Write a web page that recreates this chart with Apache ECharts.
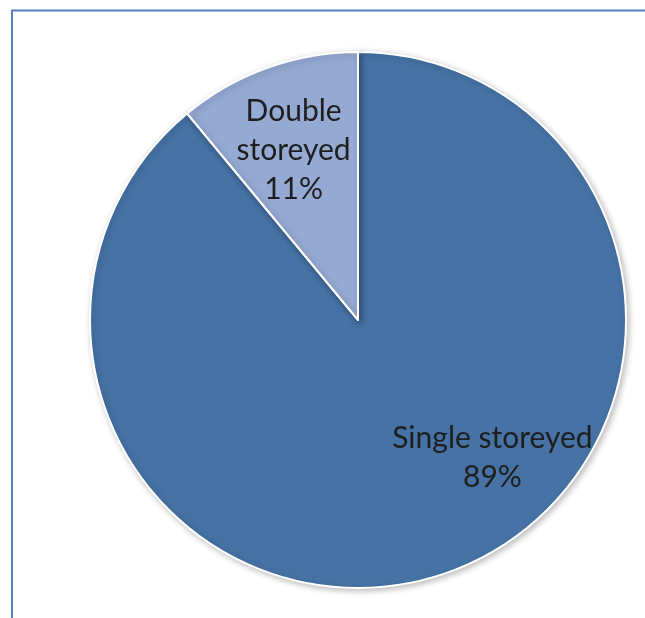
<!DOCTYPE html>
<html>
<head>
<meta charset="utf-8">
<style>
  html, body { margin: 0; padding: 0; background: #ffffff; }
  #chart { width: 645px; height: 618px; }
</style>
<script src="https://cdn.jsdelivr.net/npm/echarts@6/dist/echarts.min.js"></script>
</head>
<body>
<div id="chart"></div>
<script>
// House types by number of storeys (percent of dwellings)
const categories = ['Single storeyed', 'Double storeyed'];
const shares = [89, 11];
const sliceColors = ['#4672a5', '#95aad3'];

// Label nudges (px) for the two slice labels
const labelShift = [
  { dx: 88, dy: 9 },
  { dx: -18, dy: -41 }
];

const chart = echarts.init(document.getElementById('chart'), null, { renderer: 'canvas' });

chart.setOption({
  backgroundColor: '#ffffff',
  animation: false,
  graphic: [{
    type: 'rect',
    shape: { x: 12, y: 10.5, width: 700, height: 700 },
    style: { fill: 'none', stroke: '#4f81bd', lineWidth: 2 },
    silent: true
  }],
  series: [{
    type: 'pie',
    center: [358, 320],
    radius: 268,
    startAngle: 90,
    clockwise: true,
    avoidLabelOverlap: false,
    itemStyle: {
      borderColor: '#ffffff',
      borderWidth: 2,
      shadowBlur: 6,
      shadowOffsetX: 2,
      shadowOffsetY: 2,
      shadowColor: 'rgba(0,0,0,0.25)'
    },
    label: {
      show: true,
      position: 'inside',
      fontFamily: 'Lato',
      fontSize: 30,
      lineHeight: 39,
      color: '#1e1e1e',
      align: 'center',
      formatter: function (p) {
        return p.name.replace(' ', '\n') + '\n' + p.value + '%';
      }
    },
    labelLine: { show: false },
    labelLayout: function (params) {
      return labelShift[params.dataIndex];
    },
    emphasis: { disabled: true },
    data: categories.map(function (name, i) {
      const item = { name: name, value: shares[i], itemStyle: { color: sliceColors[i] } };
      if (i === 0) {
        item.label = { formatter: function (p) { return p.name + '\n' + p.value + '%'; } };
      }
      return item;
    })
  }]
});
</script>
</body>
</html>
